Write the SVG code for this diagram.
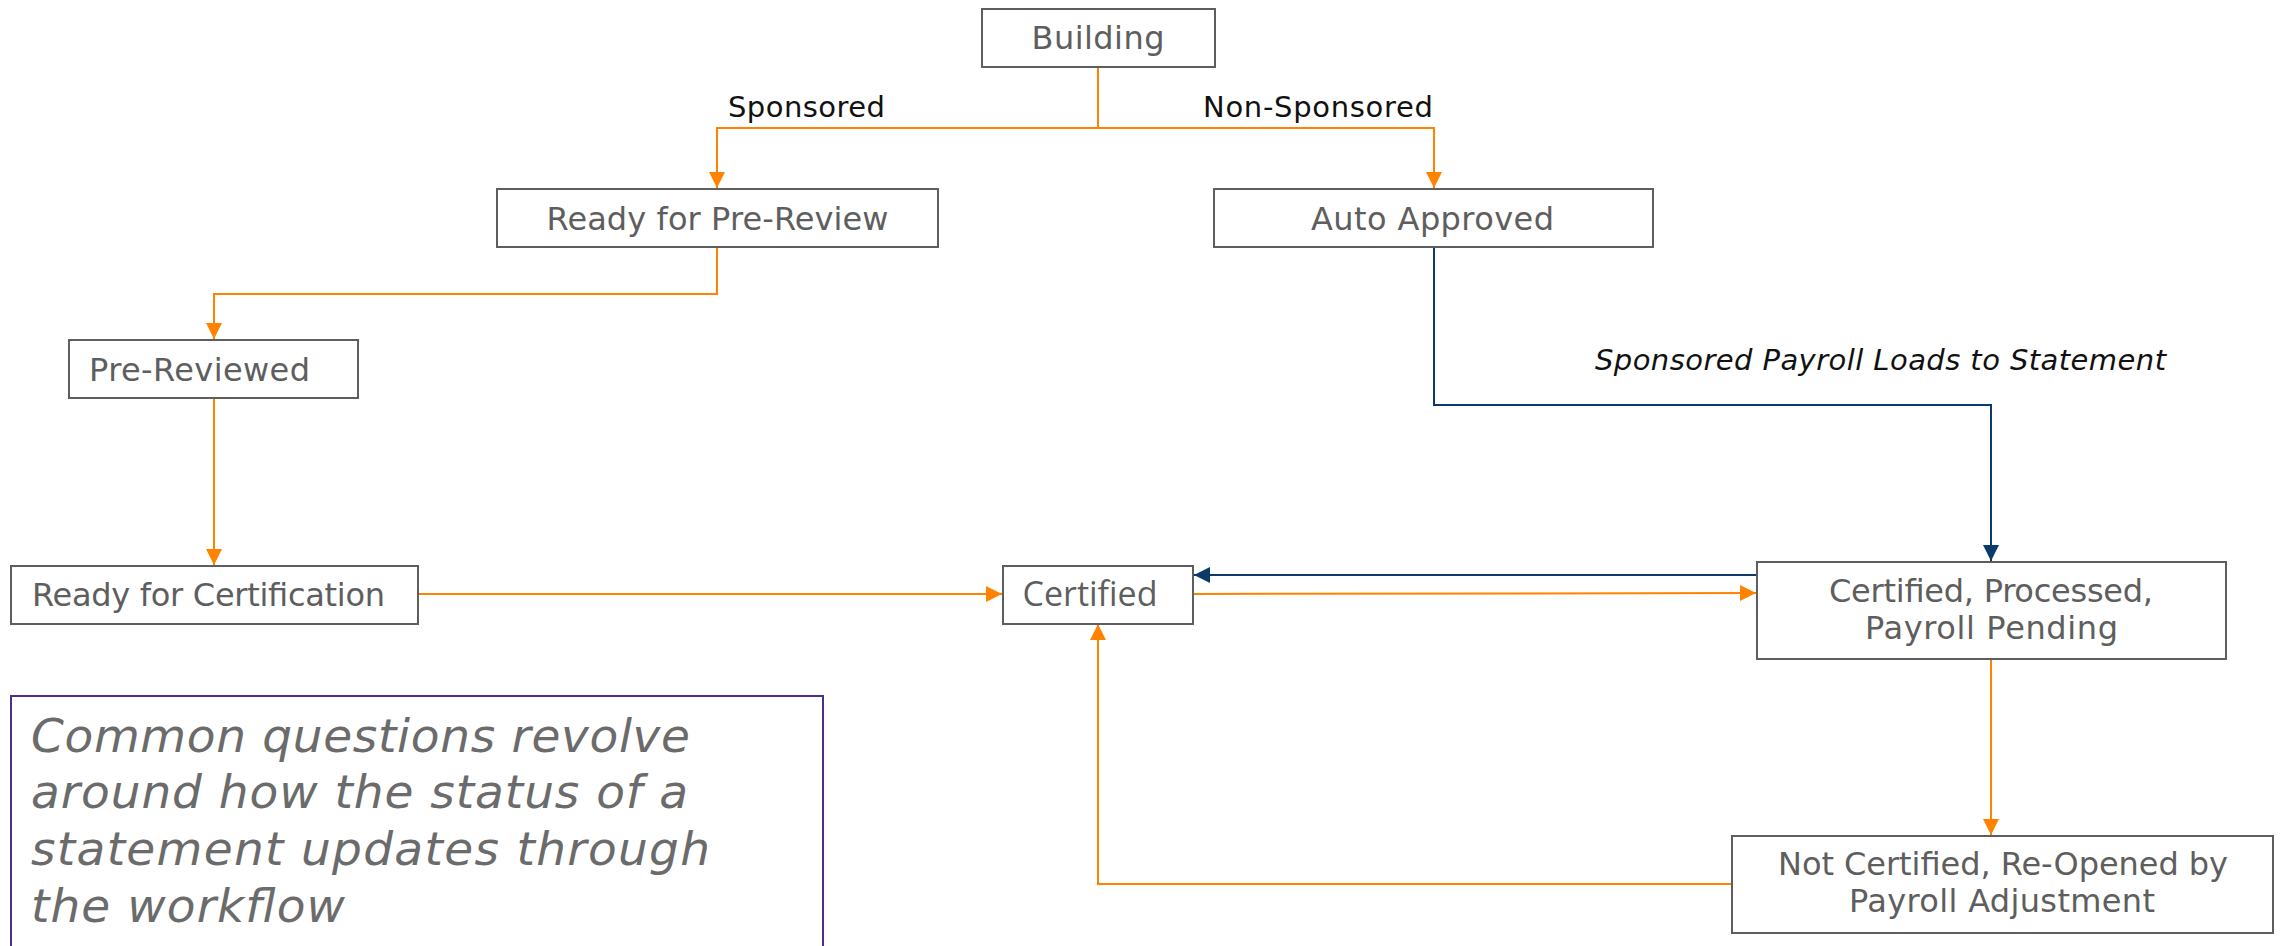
<svg xmlns="http://www.w3.org/2000/svg" width="2282" height="946" viewBox="0 0 2282 946">
  <defs>
    <style>
      .box { fill: #ffffff; stroke: #5e5e5e; stroke-width: 2; }
      .note { fill: #ffffff; stroke: #4a2f8c; stroke-width: 2; }
      .lbl { font-family: "DejaVu Sans", "Noto Sans", sans-serif; font-size: 32px; fill: #5e5e5e; text-anchor: middle; }
      .cond { font-family: "Open Sans", "Liberation Sans", sans-serif; font-size: 34px; fill: #5e5e5e; text-anchor: middle; }
      .edge { font-family: "DejaVu Sans", "Noto Sans", sans-serif; font-size: 29px; fill: #111111; }
      .edge-it { font-family: "DejaVu Sans", "Noto Sans", sans-serif; font-size: 29px; font-style: italic; fill: #111111; }
      .note-text { font-family: "DejaVu Sans", "Noto Sans", sans-serif; font-size: 47px; font-style: italic; fill: #6b6b6b; }
      .orange { fill: none; stroke: #ff8300; stroke-width: 2; }
      .blue { fill: none; stroke: #0b3a6b; stroke-width: 2; }
    </style>
    <marker id="arrow-orange" markerUnits="userSpaceOnUse" markerWidth="16" markerHeight="16" viewBox="0 0 16 16" refX="16" refY="8" orient="auto">
      <path d="M0,0 L16,8 L0,16 Z" fill="#ff8300"/>
    </marker>
    <marker id="arrow-blue" markerUnits="userSpaceOnUse" markerWidth="16" markerHeight="16" viewBox="0 0 16 16" refX="16" refY="8" orient="auto">
      <path d="M0,0 L16,8 L0,16 Z" fill="#0b3a6b"/>
    </marker>
  </defs>

  <rect width="2282" height="946" fill="#ffffff"/>

  <!-- connectors -->
  <g id="connectors">
    <path class="orange" d="M1098,67 V128 H717 V188" marker-end="url(#arrow-orange)"/>
    <path class="orange" d="M1098,128 H1434 V188" marker-end="url(#arrow-orange)"/>
    <path class="orange" d="M717,247 V294 H214 V339" marker-end="url(#arrow-orange)"/>
    <path class="orange" d="M214,399 V565" marker-end="url(#arrow-orange)"/>
    <path class="orange" d="M418,594 H1002" marker-end="url(#arrow-orange)"/>
    <path class="orange" d="M1194,594 L1756,593" marker-end="url(#arrow-orange)"/>
    <path class="orange" d="M1991,659 V835" marker-end="url(#arrow-orange)"/>
    <path class="orange" d="M1732,884 H1098 V624" marker-end="url(#arrow-orange)"/>
    <path class="blue" d="M1434,247 V405 H1991 V561" marker-end="url(#arrow-blue)"/>
    <path class="blue" d="M1756,575 H1194" marker-end="url(#arrow-blue)"/>

    <text class="edge" x="728" y="117" textLength="157">Sponsored</text>
    <text class="edge" x="1203" y="117" textLength="230">Non-Sponsored</text>
    <text class="edge-it" x="1595" y="370" textLength="571">Sponsored Payroll Loads to Statement</text>
  </g>

  <!-- status nodes -->
  <g id="building">
    <rect class="box" x="982" y="9" width="233" height="58"/>
    <text class="lbl" x="1098" y="49" textLength="133">Building</text>
  </g>

  <g id="ready-for-pre-review">
    <rect class="box" x="497" y="189" width="441" height="58"/>
    <text class="lbl" x="717.5" y="230" textLength="342">Ready for Pre-Review</text>
  </g>

  <g id="auto-approved">
    <rect class="box" x="1214" y="189" width="439" height="58"/>
    <text class="lbl" x="1432.5" y="230" textLength="243">Auto Approved</text>
  </g>

  <g id="pre-reviewed">
    <rect class="box" x="69" y="340" width="289" height="58"/>
    <text class="lbl" x="199.5" y="381" textLength="221">Pre-Reviewed</text>
  </g>

  <g id="ready-for-certification">
    <rect class="box" x="11" y="566" width="407" height="58"/>
    <text class="lbl" x="208.5" y="606" textLength="353">Ready for Certification</text>
  </g>

  <g id="certified">
    <rect class="box" x="1003" y="566" width="190" height="58"/>
    <text class="cond" x="1090" y="606" textLength="135">Certified</text>
  </g>

  <g id="certified-processed">
    <rect class="box" x="1757" y="562" width="469" height="97"/>
    <text class="lbl" x="1991" y="602" textLength="324">Certified, Processed,</text>
    <text class="lbl" x="1991.5" y="639" textLength="253">Payroll Pending</text>
  </g>

  <g id="not-certified">
    <rect class="box" x="1732" y="836" width="541" height="97"/>
    <text class="lbl" x="2003" y="875" textLength="450">Not Certified, Re-Opened by</text>
    <text class="lbl" x="2002" y="912" textLength="306">Payroll Adjustment</text>
  </g>

  <!-- explanatory note -->
  <g id="note">
    <rect class="note" x="11" y="696" width="812" height="262"/>
    <text class="note-text" x="31" y="752" textLength="659">Common questions revolve</text>
    <text class="note-text" x="31" y="808" textLength="657">around how the status of a</text>
    <text class="note-text" x="31" y="865" textLength="679">statement updates through</text>
    <text class="note-text" x="31" y="922" textLength="314">the workflow</text>
  </g>
</svg>
